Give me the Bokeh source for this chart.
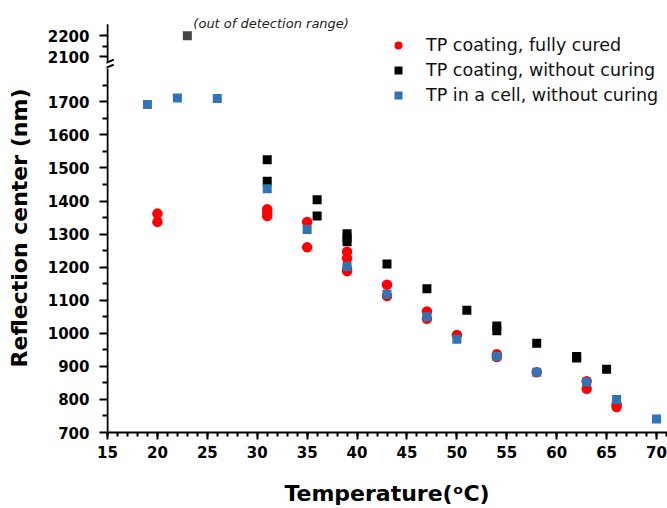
from bokeh.plotting import figure
from bokeh.models import Range1d, FixedTicker, Label, Arrow, Legend, LegendItem
from bokeh.embed import file_html
from bokeh.resources import INLINE

# ---------------- data ----------------
cured_T = [20, 20, 31, 31, 31, 35, 35, 39, 39, 39, 39, 43, 43, 47, 47, 50, 54, 54, 58, 63, 63, 66, 66]
cured_nm = [1362, 1337, 1375, 1365, 1355, 1337, 1260, 1247, 1227, 1195, 1188, 1147, 1113,
            1066, 1044, 995, 937, 928, 882, 855, 832, 785, 777]

nocure_T = [31, 31, 36, 36, 39, 39, 39, 43, 47, 51, 54, 54, 58, 62, 62, 65]
nocure_nm = [1525, 1460, 1404, 1355, 1301, 1289, 1277, 1210, 1135, 1070, 1022, 1008, 970, 930, 925, 891]

outlier_T = [23]
outlier_nm = [2200]

cell_T = [19, 22, 26, 31, 35, 39, 43, 47, 50, 54, 58, 63, 66, 70]
cell_nm = [1692, 1712, 1710, 1437, 1314, 1202, 1118, 1050, 982, 930, 882, 853, 800, 741]

legend_labels = ["TP coating, fully cured", "TP coating, without curing", "TP in a cell, without curing"]
annotation_text = "(out of detection range)"

x_major = list(range(15, 71, 5))
x_minor = list(range(15, 72))
y_low_major = list(range(700, 1701, 100))
y_low_minor = list(range(750, 1751, 100))
y_up_major = [2100, 2200]
y_up_minor = [2150]

# ---------------- scales (broken axis) ----------------
X_RANGE = (14.9, 71.1)
X_AXIS = (15, 71.1)
Y_LOW = (700, 2006.6)      # lower segment range over the full frame
Y_UP = (293.8, 2370.0)     # upper segment range over the full frame
Y_AXIS_TOP = 1934.6        # top end of the drawn axis (lower-range units)
LOW_AXIS_TOP = 1800
UP_AXIS_BOTTOM = 2075


def up_to_low(u):
    f = (u - Y_UP[0]) / (Y_UP[1] - Y_UP[0])
    return Y_LOW[0] + f * (Y_LOW[1] - Y_LOW[0])


FONT = "DejaVu Sans"

p = figure(width=667, height=508, output_backend="svg", toolbar_location=None,
           x_range=Range1d(*X_RANGE), y_range=Range1d(*Y_LOW),
           min_border_left=106, min_border_right=0, min_border_top=0, min_border_bottom=72)
p.extra_y_ranges = {"upper": Range1d(*Y_UP)}
p.outline_line_color = None
p.grid.visible = False
p.background_fill_color = "white"
p.border_fill_color = "white"

# x axis
xa = p.xaxis[0]
xa.ticker = FixedTicker(ticks=x_major, minor_ticks=x_minor)
xa.bounds = X_AXIS
xa.axis_label = "Temperature(\u1d52C)"
# y axis
ya = p.yaxis[0]
up_major = [up_to_low(v) for v in y_up_major]
ya.ticker = FixedTicker(ticks=y_low_major + up_major,
                        minor_ticks=y_low_minor + [up_to_low(v) for v in y_up_minor])
ya.major_label_overrides = {t: str(v) for t, v in zip(up_major, y_up_major)}
ya.axis_label = "Reflection center (nm)\u00a0\u00a0\u00a0"
ya.axis_line_color = None
ya.bounds = (Y_LOW[0], Y_AXIS_TOP)

for ax in (xa, ya):
    ax.major_tick_out = 7
    ax.minor_tick_out = 4
    ax.major_tick_line_width = 2
    ax.minor_tick_line_width = 2
    ax.major_tick_line_color = "black"
    ax.minor_tick_line_color = "black"
    ax.major_label_text_font = FONT
    ax.major_label_text_font_style = "bold"
    ax.major_label_text_font_size = "15px"
    ax.major_label_text_color = "black"
    ax.axis_label_text_font = FONT
    ax.axis_label_text_font_style = "bold"
    ax.axis_label_text_font_size = "22px"
    ax.axis_label_text_color = "black"
xa.major_tick_in = 0
xa.minor_tick_in = 0
ya.major_tick_in = 1
ya.minor_tick_in = 1
xa.axis_line_width = 2
xa.axis_line_color = "black"
xa.major_label_standoff = 6
xa.axis_label_standoff = 20
ya.major_label_standoff = 10
ya.axis_label_standoff = 13

# y axis line in two pieces, with break marks
for y0, y1 in [(Y_LOW[0], LOW_AXIS_TOP), (up_to_low(UP_AXIS_BOTTOM), Y_AXIS_TOP)]:
    p.add_layout(Arrow(end=None, x_start=X_AXIS[0], y_start=y0, x_end=X_AXIS[0], y_end=y1,
                       line_width=2, line_color="black"))
for yb in (1808.7, 1793.7):
    p.add_layout(Arrow(end=None, x_start=14.17, y_start=yb, x_end=15.63, y_end=yb + 19.2,
                       line_width=2, line_color="black"))

# ---------------- data marks ----------------
r_black = p.scatter(nocure_T, nocure_nm, marker="square", size=9, fill_color="black", line_color=None)
p.scatter(outlier_T, outlier_nm, marker="square", size=9, fill_color="#454545", line_color=None,
          y_range_name="upper")
r_red = p.scatter(cured_T, cured_nm, marker="circle", size=10.5, fill_color="#ff0000", line_color=None)
r_blue = p.scatter(cell_T, cell_nm, marker="square", size=9, fill_color="#2e74b7", line_color=None)

p.add_layout(Label(x=outlier_T[0], y=outlier_nm[0], y_range_name="upper", text=annotation_text,
                   x_offset=6, y_offset=12, text_font=FONT, text_font_style="italic",
                   text_font_size="13px", text_color="#222222", text_baseline="alphabetic"))

legend = Legend(items=[LegendItem(label=legend_labels[0], renderers=[r_red]),
                       LegendItem(label=legend_labels[1], renderers=[r_black]),
                       LegendItem(label=legend_labels[2], renderers=[r_blue])],
                location=(282, 326), padding=0, margin=0, spacing=3,
                glyph_height=22, glyph_width=20, label_height=22, label_standoff=18,
                border_line_color=None, background_fill_alpha=0,
                label_text_font=FONT, label_text_font_size="17.5px", label_text_color="#111111")
p.add_layout(legend)

open("out.html", "w").write(file_html(p, INLINE))
